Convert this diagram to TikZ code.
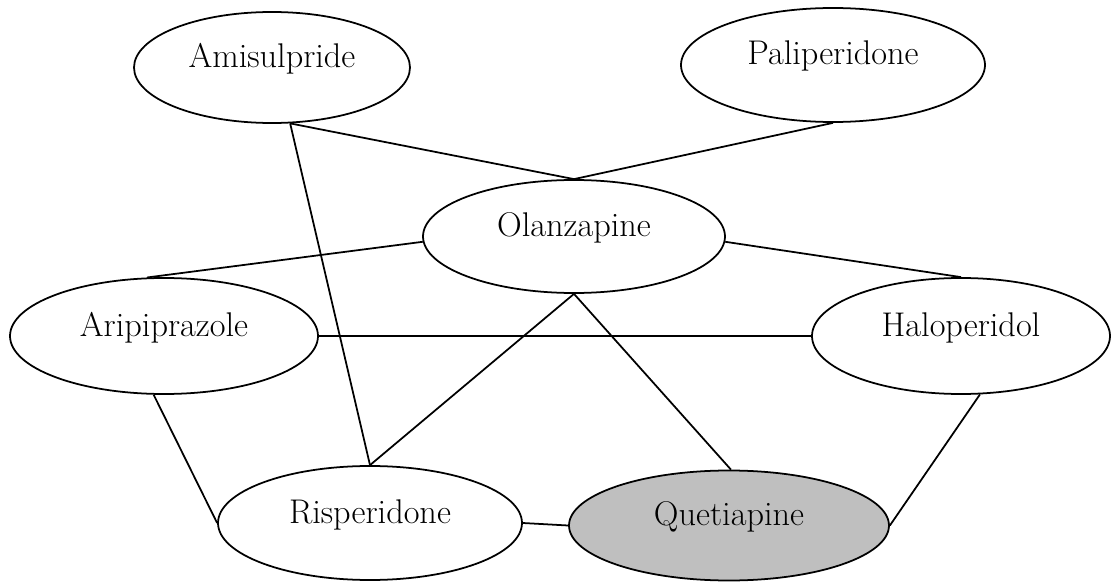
\documentclass[tikz,border=0pt]{standalone}
\usepackage{tikz}
\usetikzlibrary{shapes.geometric}

\tikzset{
  drug/.style={draw, ellipse, line width=1pt, inner sep=0pt,
    text height=0.5cm, text depth=0.5cm,
    font=\fontsize{19.5}{23}\selectfont},
  link/.style={line width=1pt}
}

\begin{document}
\begin{tikzpicture}

  \useasboundingbox (0,0) rectangle (22.24,11.68);

  \node[drug, minimum width=5.52cm, minimum height=2.22cm] (ami) at (5.44, 10.33) {Amisulpride};
  \node[drug, minimum width=6.08cm, minimum height=2.28cm] (pal) at (16.66,10.38) {Paliperidone};
  \node[drug, minimum width=6.04cm, minimum height=2.26cm] (ola) at (11.48, 6.95) {Olanzapine};
  \node[drug, minimum width=6.16cm, minimum height=2.32cm] (ari) at (3.28, 4.96)  {Aripiprazole};
  \node[drug, minimum width=5.96cm, minimum height=2.32cm] (hal) at (19.22, 4.96) {Haloperidol};
  \node[drug, minimum width=6.08cm, minimum height=2.28cm] (ris) at (7.40, 1.22)  {Risperidone};
  \node[drug, minimum width=6.40cm, minimum height=2.20cm,
        fill=black!25] (que) at (14.58, 1.17) {Quetiapine};

  \draw [link] (ami.-72)   -- (ola.north) ;
  \draw [link] (pal.south) -- (ola.north) ;
  \draw [link] (ami.-72)   -- (ris.north) ;
  \draw [link] (ola.182)   -- (ari.106)   ;
  \draw [link] (ola.-2)    -- (hal.north) ;
  \draw [link] (ari.east)  -- (hal.west)  ;
  \draw [link] (ola.south) -- (ris.north) ;
  \draw [link] (ola.south) -- (que.88)    ;
  \draw [link] (ari.-100)  -- (ris.west)  ;
  \draw [link] (ris.east)  -- (que.west)  ;
  \draw [link] (hal.-72)   -- (que.east)  ;

\end{tikzpicture}
\end{document}
